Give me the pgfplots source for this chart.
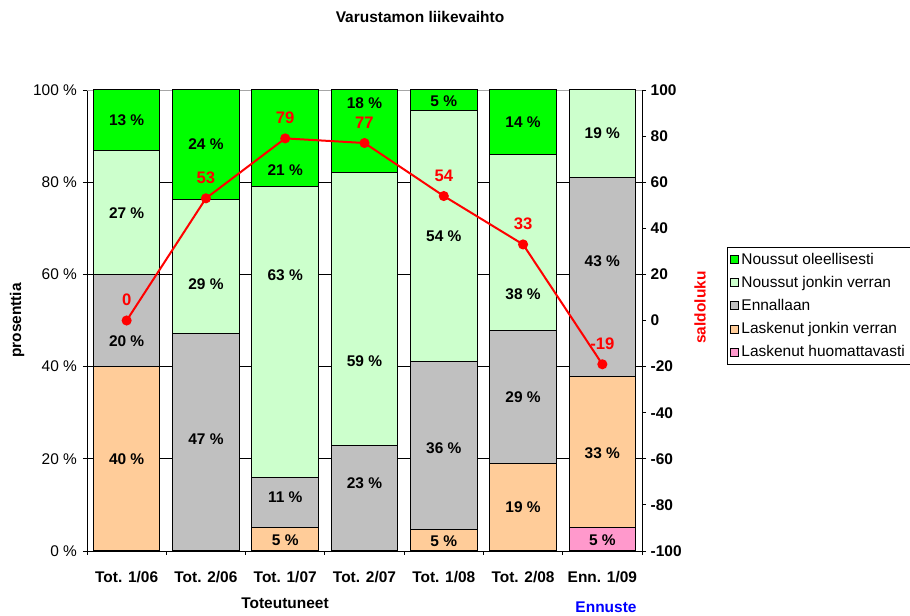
\documentclass[border=0pt]{standalone}
\usepackage{fontspec}
\setmainfont{Liberation Sans}
\usepackage{pgfplots}
\pgfplotsset{compat=1.18}
\usepackage{pgfplotstable}

\definecolor{nouole}{HTML}{00FF00}
\definecolor{noujon}{HTML}{CCFFCC}
\definecolor{ennal}{HTML}{C0C0C0}
\definecolor{lasjon}{HTML}{FFCC99}
\definecolor{lashuo}{HTML}{FF99CC}
\newcommand\lbl{\fontsize{11.6}{13.5}\selectfont}
\tikzset{pct/.style={font=\lbl\bfseries}}

% shares of answers (%) and saldoluku
\pgfplotstableread{
x lashuo lasjon enn  nousj nouso saldo
0 0      40     20   26.8  13.2  0
1 0      0      47.2 29    23.8  53
2 0      5      11   63.1  20.9  79
3 0      0      22.9 59.1  18    77
4 0      4.7    36.4 54.4  4.5   54
5 0      19     28.9 38.2  13.9  33
6 5      32.9   43.2 18.9  0     -19
}\varustamo

\begin{document}
\begin{tikzpicture}
  \begin{axis}[
      scale only axis, width=416.25pt, height=345.75pt,
      ybar stacked, bar width=0.84,
      xmin=-0.5, xmax=6.5, ymin=0, ymax=100,
      axis x line*=bottom, axis y line*=left,
      axis line style={black, line width=0.6pt},
      tick align=outside,
      xtick={0,...,6},
      xticklabels={Tot. 1/06, Tot. 2/06, Tot. 1/07, Tot. 2/07, Tot. 1/08, Tot. 2/08, Enn. 1/09},
      major x tick style={draw=none},
      minor xtick={-0.5,0.5,...,6.5},
      minor tick length=3pt, major tick length=3pt,
      xticklabel style={font=\lbl\bfseries, yshift=-8.5pt},
      ytick={0,20,40,60,80},
      yticklabels={0 \%, 20 \%, 40 \%, 60 \%, 80 \%},
      extra y ticks={100}, extra y tick labels={100 \%},
      extra y tick style={grid style={gray!70, line width=0.6pt}},
      yticklabel style={font=\lbl, xshift=-1pt},
      tick style={black, line width=0.6pt},
      ymajorgrids, grid style={black, line width=0.6pt},
      ylabel={prosenttia}, ylabel style={font=\lbl\bfseries, at={(axis description cs:-0.126,0.5)}, anchor=center},
      reverse legend,
      legend cell align=left,
      legend style={at={(1.153,0.66)}, anchor=north west, draw=black, line width=0.6pt,
        font=\lbl, row sep=3.4pt, inner xsep=2pt, inner ysep=2.5pt},
      legend image code/.code={\draw[#1, line width=0.6pt] (0pt,-3pt) rectangle (6pt,3pt);},
    ]
    \addplot[fill=lashuo, draw=black, line width=0.75pt] table[x=x, y=lashuo] {\varustamo};
    \addlegendentry{Laskenut huomattavasti}
    \addplot[fill=lasjon, draw=black, line width=0.75pt] table[x=x, y=lasjon] {\varustamo};
    \addlegendentry{Laskenut jonkin verran}
    \addplot[fill=ennal, draw=black, line width=0.75pt] table[x=x, y=enn] {\varustamo};
    \addlegendentry{Ennallaan}
    \addplot[fill=noujon, draw=black, line width=0.75pt] table[x=x, y=nousj] {\varustamo};
    \addlegendentry{Noussut jonkin verran}
    \addplot[fill=nouole, draw=black, line width=0.75pt] table[x=x, y=nouso] {\varustamo};
    \addlegendentry{Noussut oleellisesti}
  \end{axis}

  \begin{axis}[
      scale only axis, width=416.25pt, height=345.75pt,
      xmin=-0.5, xmax=6.5, ymin=-100, ymax=100,
      axis x line=none, axis y line*=right,
      axis line style={black, line width=0.6pt},
      tick align=outside, major tick length=3pt,
      tick style={black, line width=0.6pt},
      ytick={-100,-80,-60,-40,-20,0,20,40,60,80,100},
      yticklabels={-100,-80,-60,-40,-20,0,20,40,60,80,100},
      yticklabel style={font=\lbl\bfseries},
      ylabel={saldoluku},
      ylabel style={font=\lbl\bfseries, text=red, at={(axis description cs:1.1045,0.528)}, anchor=center},
    ]
    % bar labels, placed on this axis: y = 2*percent - 100
    \node[pct] at (axis cs:0,87) {13 \%};
    \node[pct] at (axis cs:0,46.6) {27 \%};
    \node[pct] at (axis cs:0,-8.8) {20 \%};
    \node[pct] at (axis cs:0,-60) {40 \%};
    \node[pct] at (axis cs:1,76.6) {24 \%};
    \node[pct] at (axis cs:1,15.8) {29 \%};
    \node[pct] at (axis cs:1,-51.4) {47 \%};
    \node[pct] at (axis cs:2,65.2) {21 \%};
    \node[pct] at (axis cs:2,19.8) {63 \%};
    \node[pct] at (axis cs:2,-76.6) {11 \%};
    \node[pct] at (axis cs:2,-95.2) {5 \%};
    \node[pct] at (axis cs:3,94.4) {18 \%};
    \node[pct] at (axis cs:3,-17.8) {59 \%};
    \node[pct] at (axis cs:3,-70.4) {23 \%};
    \node[pct] at (axis cs:4,95.2) {5 \%};
    \node[pct] at (axis cs:4,36.4) {54 \%};
    \node[pct] at (axis cs:4,-55.2) {36 \%};
    \node[pct] at (axis cs:4,-95.6) {5 \%};
    \node[pct] at (axis cs:5,86) {14 \%};
    \node[pct] at (axis cs:5,11.6) {38 \%};
    \node[pct] at (axis cs:5,-33.2) {29 \%};
    \node[pct] at (axis cs:5,-81) {19 \%};
    \node[pct] at (axis cs:6,81.4) {19 \%};
    \node[pct] at (axis cs:6,25.6) {43 \%};
    \node[pct] at (axis cs:6,-57.4) {33 \%};
    \node[pct] at (axis cs:6,-95.2) {5 \%};

    \addplot[red, line width=1.5pt, mark=*, mark size=3pt,
      nodes near coords,
      every node near coord/.append style={text=red, font=\fontsize{12.5}{14}\selectfont\bfseries, anchor=center, yshift=15.5pt, /pgf/number format/assume math mode=true}]
      table[x=x, y=saldo] {\varustamo};
  \end{axis}

  \node[pct] at (249.75pt,400.5pt) {Varustamon liikevaihto};
  \node[pct] at (148.5pt,-39.5pt) {Toteutuneet};
  \node[pct, text=blue] at (389.25pt,-42.5pt) {Ennuste};

  \pgfresetboundingbox
  \path (-65.25pt,-48.75pt) rectangle (617.25pt,413.25pt);
\end{tikzpicture}
\end{document}
